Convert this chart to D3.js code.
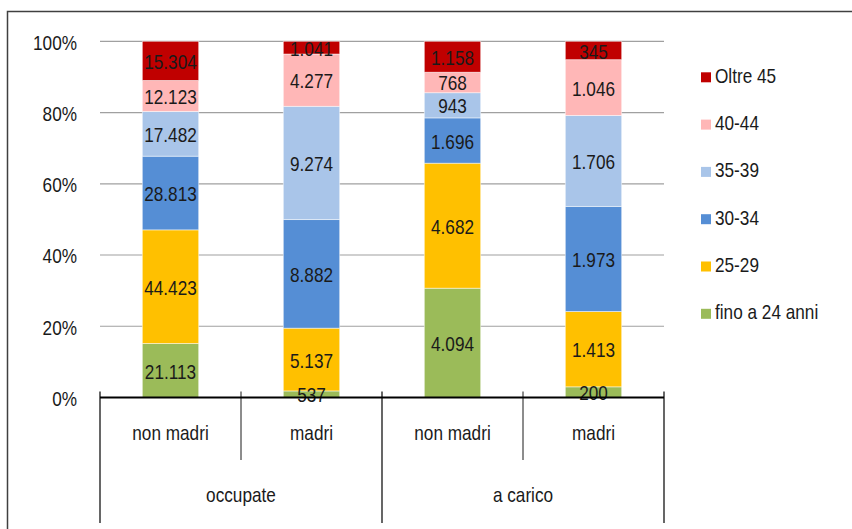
<!DOCTYPE html>
<html>
<head>
<meta charset="utf-8">
<script src="https://cdn.jsdelivr.net/npm/d3@7"></script>
<style>
  html, body { margin: 0; padding: 0; background: #fff; }
  svg { display: block; }
  text { font-family: "Liberation Sans", Arial, sans-serif; font-size: 20px; fill: #1a1a1a; }
</style>
</head>
<body>
<svg id="chart" width="852" height="529"></svg>
<script>
// Two-level categories: group / subgroup
const groups = ["occupate", "a carico"];
const subgroups = ["non madri", "madri"];

// Age classes, bottom of the stack first
const ageClasses = ["fino a 24 anni", "25-29", "30-34", "35-39", "40-44", "Oltre 45"];
const ageColors = ["#9BBB59", "#FFC000", "#558ED5", "#A9C5E9", "#FFB7B7", "#C00000"];

// Counts per bar, in age-class order
const occupateNonMadri = [21113, 44423, 28813, 17482, 12123, 15304];
const occupateMadri    = [537, 5137, 8882, 9274, 4277, 1041];
const caricoNonMadri   = [4094, 4682, 1696, 943, 768, 1158];
const caricoMadri      = [200, 1413, 1973, 1706, 1046, 345];

const percentTicks = [0, 0.2, 0.4, 0.6, 0.8, 1];

const bars = [
  { group: groups[0], sub: subgroups[0], values: occupateNonMadri },
  { group: groups[0], sub: subgroups[1], values: occupateMadri },
  { group: groups[1], sub: subgroups[0], values: caricoNonMadri },
  { group: groups[1], sub: subgroups[1], values: caricoMadri }
];

const itLocale = d3.formatLocale({ decimal: ",", thousands: ".", grouping: [3], currency: ["€", ""] });
const fmtCount = itLocale.format(",d");

// condensed lettering: scale glyphs horizontally around the anchor point
const NARROW = 0.86;
function placeText(sel, fx, fy) {
  return sel.attr("x", 0).attr("y", 0)
    .attr("transform", (d, i) => `translate(${fx(d, i)},${fy(d, i)}) scale(${NARROW},1)`);
}

const svg = d3.select("#chart");

// outer frame
svg.append("rect")
  .attr("x", 7.5).attr("y", 11.5).attr("width", 900).attr("height", 600)
  .attr("fill", "none").attr("stroke", "#404040").attr("stroke-width", 1.5);

const plot = { left: 100, right: 664, top: 41.3, bottom: 397.5 };

const x = d3.scaleBand()
  .domain(bars.map((d, i) => i))
  .range([plot.left, plot.right])
  .paddingInner(0.6).paddingOuter(0.3);

const y = d3.scaleLinear().domain([0, 1]).range([plot.bottom, plot.top]);

// gridlines
svg.append("g")
  .selectAll("line")
  .data(percentTicks.filter(t => t > 0))
  .join("line")
  .attr("x1", plot.left).attr("x2", plot.right)
  .attr("y1", d => y(d)).attr("y2", d => y(d))
  .attr("stroke", "#A0A0A0").attr("stroke-width", 1.2);

// y axis labels
svg.append("g")
  .selectAll("text")
  .data(percentTicks)
  .join("text")
  .attr("dy", "0.42em")
  .attr("text-anchor", "end")
  .call(placeText, () => 77, d => y(d))
  .text(d => d3.format(".0%")(d));

// stacked 100% bars
const stackData = bars.map(b => {
  const total = d3.sum(b.values);
  let acc = 0;
  return b.values.map((v, k) => {
    const y0 = acc / total;
    acc += v;
    return { value: v, y0, y1: acc / total, k };
  });
});

const barG = svg.append("g");
stackData.forEach((segs, i) => {
  barG.append("g")
    .selectAll("rect")
    .data(segs)
    .join("rect")
    .attr("x", x(i))
    .attr("width", x.bandwidth())
    .attr("y", d => y(d.y1))
    .attr("height", d => y(d.y0) - y(d.y1))
    .attr("fill", d => ageColors[d.k])
    .attr("stroke", "#ffffff")
    .attr("stroke-opacity", 0.6)
    .attr("stroke-width", 0.8);
});

stackData.forEach((segs, i) => {
  barG.append("g")
    .selectAll("text")
    .data(segs)
    .join("text")
    .attr("dy", "0.4em")
    .attr("text-anchor", "middle")
    .call(placeText, () => x(i) + x.bandwidth() / 2, d => y((d.y0 + d.y1) / 2))
    .text(d => fmtCount(d.value));
});

// category axis
const step = (plot.right - plot.left) / bars.length;
const axisG = svg.append("g");
axisG.append("line")
  .attr("x1", plot.left).attr("x2", plot.right)
  .attr("y1", plot.bottom).attr("y2", plot.bottom)
  .attr("stroke", "#000").attr("stroke-width", 2);

// dividers: short ones between subgroups, long ones between groups
d3.range(bars.length + 1).forEach(i => {
  const xp = plot.left + i * step;
  const isGroupEdge = i % subgroups.length === 0;
  axisG.append("line")
    .attr("x1", xp).attr("x2", xp)
    .attr("y1", plot.bottom - 6)
    .attr("y2", isGroupEdge ? 523 : 460)
    .attr("stroke", "#000").attr("stroke-width", isGroupEdge ? 1.2 : 0.9);
});

axisG.selectAll("text.sub")
  .data(bars)
  .join("text")
  .attr("class", "sub")
  .attr("text-anchor", "middle")
  .call(placeText, (d, i) => plot.left + (i + 0.5) * step, () => 439.5)
  .text(d => d.sub);

axisG.selectAll("text.grp")
  .data(groups)
  .join("text")
  .attr("class", "grp")
  .attr("text-anchor", "middle")
  .call(placeText, (d, i) => plot.left + (i + 0.5) * step * subgroups.length, () => 502)
  .text(d => d);

// legend, top entry is the oldest class
const legendItems = ageClasses.map((name, k) => ({ name, color: ageColors[k] })).reverse();
const legend = svg.append("g").attr("transform", "translate(701,72.3)");
const li = legend.selectAll("g")
  .data(legendItems)
  .join("g")
  .attr("transform", (d, i) => `translate(0,${i * 47.3})`);
li.append("rect")
  .attr("x", 0).attr("y", 0).attr("width", 10).attr("height", 10)
  .attr("fill", d => d.color);
li.append("text")
  .call(placeText, () => 14, () => 10.4)
  .text(d => d.name);
</script>
</body>
</html>
